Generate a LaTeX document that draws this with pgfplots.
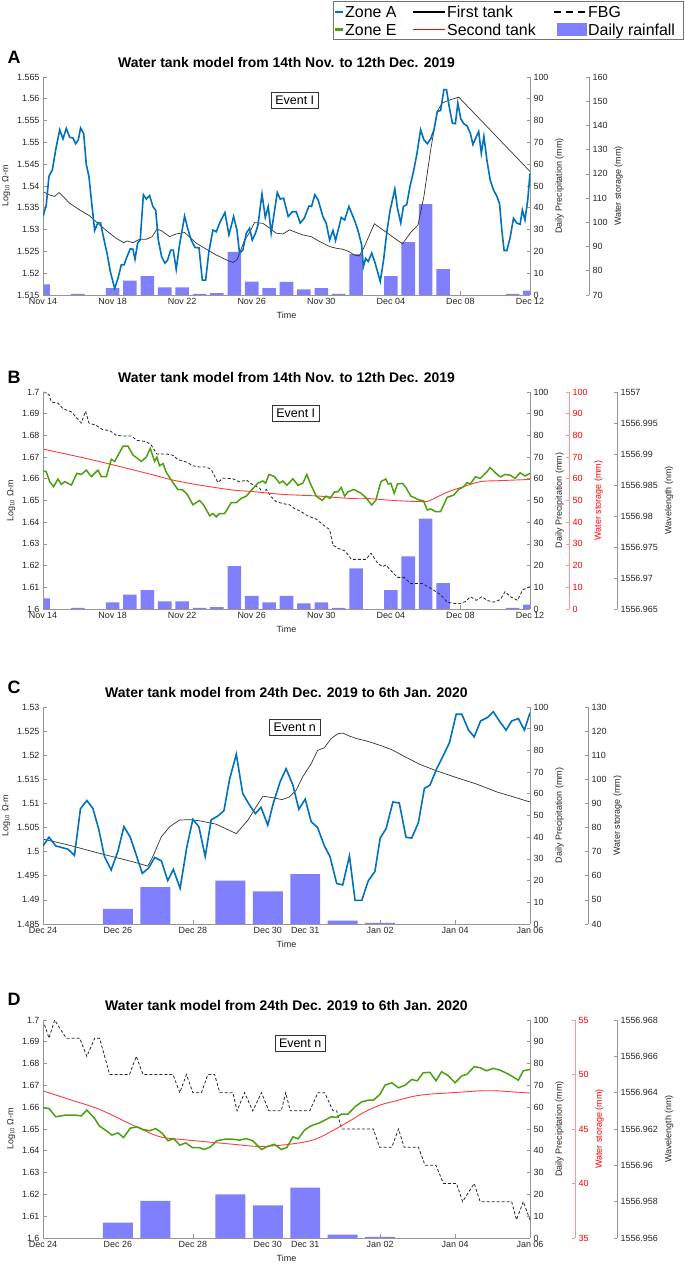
\documentclass[border=0pt]{standalone}
\usepackage{fontspec}
\setmainfont{Liberation Sans}
\usepackage{pgfplots}
\pgfplotsset{compat=1.18}

\definecolor{zoneA}{RGB}{0,114,189}
\definecolor{zoneE}{RGB}{76,160,16}
\definecolor{barcol}{RGB}{128,128,255}
\definecolor{axcol}{RGB}{150,150,150}
\definecolor{tankred}{RGB}{255,60,60}
\definecolor{redax}{RGB}{255,150,150}
\definecolor{txt}{RGB}{38,38,38}

\newcommand\tfont{\fontsize{9}{10.5}\selectfont}

\tikzset{
  evt/.style={draw=black!80, fill=white, font=\fontsize{12.5}{14}\selectfont,
    inner xsep=4bp, minimum height=16bp},
  zoneAline/.style={zoneA, line width=1.6bp},
  zoneEline/.style={zoneE, line width=1.5bp},
  tankline/.style={black!80, line width=0.7bp},
  redline/.style={tankred, line width=0.9bp},
  fbgline/.style={black!85, line width=0.8bp, dash pattern=on 3bp off 2bp},
  legtext/.style={anchor=base west, inner sep=0pt, font=\fontsize{16}{18}\selectfont},
}

\pgfplotsset{
  panel/.style={scale only axis, width=487bp, anchor=south west, xmin=0, clip=true,
    axis line style={axcol, line width=0.6bp}, tick style={axcol, line width=0.6bp},
    major tick length=3.5bp, tick align=inside, scaled ticks=false,
    ticklabel style={font=\tfont, text=txt}, label style={font=\tfont, text=txt},
    /pgf/number format/assume math mode=true,
    title style={font=\bfseries\fontsize{14}{16}\selectfont, text=black}},
  redaxis/.style={axis line style={redax}, tick style={redax},
    yticklabel style={text=red}, ylabel style={text=red}},
  logaxis/.style={axis x line*=bottom, axis y line*=left,
    yticklabel style={/pgf/number format/fixed, /pgf/number format/precision=3},
    xlabel={Time}, ylabel={Log\textsubscript{10} Ω-m}},
  rightaxis/.style={axis x line=none, axis y line*=right},
  rain/.style={ybar, fill=barcol, draw=none},
}

\begin{document}
\begin{tikzpicture}
\path[use as bounding box] (0,0) rectangle (685bp,1265bp);

% ================= A =================
\begin{axis}[panel, rightaxis, at={(43bp,970bp)}, height=218bp, xmax=28, ymin=0, ymax=100,
  ytick={0,10,...,100}, ylabel={Daily Precipitation (mm)}]
\addplot[rain, bar width=0.78] coordinates {
  (0,4.9) (2,0.5) (4,3.1) (5,6.6) (6,8.7) (7,3.5) (8,3.5) (9,0.5) (10,0.9)
  (11,19.8) (12,6.1) (13,3.1) (14,6.0) (15,2.6) (16,3.1) (17,0.5) (18,18.7)
  (20,8.7) (21,24.2) (22,41.7) (23,11.9) (27,0.5) (28,2.0)};
\end{axis}
% first tank, water storage (mm)
\begin{axis}[panel, hide axis, at={(43bp,970bp)}, height=218bp, xmax=28, ymin=70, ymax=160]
\addplot[tankline] coordinates {
  (0,112.7) (0.38,111.3) (0.67,110.7) (0.92,112.3) (1.15,110.7) (1.53,107.9) (2.11,105.1)
  (2.68,102.7) (3.26,98.9) (3.83,95.5) (4.21,93.4) (4.64,91.6) (4.83,92.3) (5.17,91.6)
  (5.56,93.0) (5.94,93.0) (6.28,94.1) (6.55,97.2) (6.80,96.6) (7.28,94.1) (7.66,95.2)
  (8.14,95.8) (8.81,91.4) (9.39,88.9) (9.96,86.5) (10.54,84.5) (10.92,83.4) (11.15,84.5)
  (11.30,87.2) (11.59,92.7) (11.88,95.8) (12.16,99.9) (12.64,99.6) (13.03,97.6)
  (13.41,95.5) (13.79,95.2) (14.18,96.9) (14.56,95.8) (14.94,94.8) (15.42,94.1)
  (15.90,92.1) (16.48,90.0) (16.86,89.3) (17.24,88.9) (17.59,87.9) (17.90,86.5)
  (18.19,86.1) (18.48,90.0) (19.05,99.4) (20.67,91.1) (21.14,95.8) (21.56,98.9)
  (21.90,110.7) (22.29,130.0) (22.67,145.8) (22.95,149.3) (23.43,150.6) (23.90,151.7)
  (28.00,121.0)};
\end{axis}
\begin{axis}[panel, logaxis, at={(43bp,970bp)}, height=218bp, xmax=28, ymin=1.515, ymax=1.565,
  xtick={0,4,...,28},
  xticklabels={Nov 14,Nov 18,Nov 22,Nov 26,Nov 30,Dec 04,Dec 08,Dec 12},
  ytick={1.515,1.52,1.525,1.53,1.535,1.54,1.545,1.55,1.555,1.56,1.565},
  title={Water tank model from 14th Nov. to 12th Dec. 2019}]
\addplot[zoneAline] coordinates {
  (0,1.5330) (0.19,1.5357) (0.34,1.5422) (0.54,1.5437) (0.73,1.5483) (0.96,1.5529)
  (1.15,1.5508) (1.34,1.5532) (1.53,1.5512) (1.72,1.5510) (1.88,1.5497) (2.03,1.5506)
  (2.16,1.5533) (2.34,1.5520) (2.49,1.5449) (2.64,1.5422) (2.80,1.5361) (2.97,1.5298)
  (3.16,1.5316) (3.31,1.5315) (3.49,1.5280) (3.68,1.5246) (3.87,1.5204) (4.12,1.5165)
  (4.31,1.5188) (4.50,1.5219) (4.66,1.5219) (4.83,1.5238) (5.02,1.5256) (5.17,1.5255)
  (5.29,1.5232) (5.44,1.5269) (5.59,1.5276) (5.77,1.5380) (5.94,1.5370) (6.13,1.5378)
  (6.32,1.5353) (6.48,1.5344) (6.63,1.5276) (6.82,1.5238) (7.01,1.5223) (7.16,1.5230)
  (7.34,1.5253) (7.49,1.5253) (7.66,1.5209) (7.85,1.5265) (8.14,1.5331) (8.33,1.5301)
  (8.52,1.5276) (8.74,1.5259) (8.97,1.5258) (9.16,1.5184) (9.35,1.5184) (9.54,1.5250)
  (9.77,1.5299) (9.96,1.5295) (10.19,1.5318) (10.46,1.5339) (10.69,1.5288) (10.96,1.5330)
  (11.15,1.5299) (11.30,1.5246) (11.49,1.5253) (11.69,1.5292) (11.88,1.5303) (12.03,1.5276)
  (12.22,1.5292) (12.36,1.5311) (12.59,1.5382) (12.78,1.5328) (12.95,1.5353) (13.12,1.5292)
  (13.47,1.5385) (13.64,1.5370) (13.83,1.5372) (14.10,1.5330) (14.33,1.5341) (14.56,1.5341)
  (14.79,1.5315) (15.02,1.5326) (15.29,1.5354) (15.44,1.5353) (15.63,1.5380) (15.82,1.5368)
  (16.09,1.5330) (16.28,1.5315) (16.48,1.5276) (16.67,1.5298) (16.82,1.5275) (17.15,1.5328)
  (17.34,1.5322) (17.59,1.5353) (17.94,1.5318) (18.13,1.5295) (18.32,1.5265) (18.42,1.5215)
  (18.55,1.5234) (18.70,1.5227) (18.90,1.5246) (19.09,1.5224) (19.39,1.5181) (19.58,1.5230)
  (19.77,1.5295) (19.96,1.5345) (20.23,1.5393) (20.38,1.5349) (20.57,1.5315) (20.72,1.5353)
  (20.91,1.5357) (21.10,1.5399) (21.30,1.5433) (21.49,1.5472) (21.71,1.5529) (21.90,1.5506)
  (22.10,1.5497) (22.29,1.5508) (22.48,1.5529) (22.67,1.5571) (22.86,1.5573) (23.05,1.5621)
  (23.20,1.5621) (23.35,1.5583) (23.54,1.5544) (23.71,1.5543) (23.85,1.5590) (24.02,1.5554)
  (24.19,1.5543) (24.38,1.5538) (24.57,1.5521) (24.72,1.5495) (24.88,1.5510) (25.05,1.5525)
  (25.20,1.5475) (25.35,1.5514) (25.52,1.5460) (25.71,1.5414) (25.90,1.5391) (26.10,1.5376)
  (26.25,1.5359) (26.38,1.5299) (26.51,1.5252) (26.67,1.5252) (26.86,1.5282) (27.05,1.5326)
  (27.24,1.5315) (27.43,1.5312) (27.56,1.5345) (27.71,1.5322) (27.87,1.5368) (28.00,1.5429)};
\node[evt] at (rel axis cs:0.517,0.894) {Event I};
\end{axis}
\begin{axis}[panel, rightaxis, at={(43bp,970bp)}, width=546bp, height=218bp, xmax=1,
  ymin=70, ymax=160, ytick={70,80,...,160}, ylabel={Water storage (mm)}]
\end{axis}
\node[font=\bfseries\fontsize{18}{18}\selectfont] at (14bp,1208bp) {A};

% ================= B =================
\begin{axis}[panel, rightaxis, at={(43bp,656bp)}, height=217bp, xmax=28, ymin=0, ymax=100,
  ytick={0,10,...,100}, ylabel={Daily Precipitation (mm)}]
\addplot[rain, bar width=0.78] coordinates {
  (0,4.9) (2,0.5) (4,3.1) (5,6.6) (6,8.7) (7,3.5) (8,3.5) (9,0.5) (10,0.9)
  (11,19.8) (12,6.1) (13,3.1) (14,6.0) (15,2.6) (16,3.1) (17,0.5) (18,18.7)
  (20,8.7) (21,24.2) (22,41.7) (23,11.9) (27,0.5) (28,2.0)};
\end{axis}
% FBG wavelength, stored as (wavelength - 1556 nm)
\begin{axis}[panel, hide axis, at={(43bp,656bp)}, height=217bp, xmax=28, ymin=0.965, ymax=1.0]
\addplot[fbgline] coordinates {
  (0,1.0000) (0.34,0.9996) (0.48,0.9984) (0.86,0.9982) (1.15,0.9973) (1.63,0.9968)
  (1.88,0.9960) (2.20,0.9950) (2.45,0.9969) (2.64,0.9950) (3.07,0.9946) (3.45,0.9939)
  (3.83,0.9938) (4.21,0.9930) (4.69,0.9929) (5.08,0.9929) (5.40,0.9922) (5.94,0.9920)
  (6.23,0.9914) (6.55,0.9900) (7.09,0.9900) (7.47,0.9898) (7.76,0.9891) (8.24,0.9887)
  (8.62,0.9881) (9.00,0.9879) (9.39,0.9879) (9.67,0.9875) (10.06,0.9854) (10.34,0.9861)
  (10.92,0.9860) (11.30,0.9855) (11.69,0.9858) (12.07,0.9850) (12.45,0.9845) (12.64,0.9837)
  (12.84,0.9843) (13.12,0.9831) (13.41,0.9823) (13.79,0.9820) (14.18,0.9818) (14.46,0.9812)
  (14.85,0.9807) (15.23,0.9800) (15.71,0.9795) (16.09,0.9786) (16.48,0.9778) (16.67,0.9753)
  (16.95,0.9748) (17.34,0.9744) (17.62,0.9735) (17.71,0.9730) (18.19,0.9730) (18.57,0.9730)
  (18.86,0.9740) (19.24,0.9724) (19.52,0.9718) (19.71,0.9721) (20.10,0.9709) (20.38,0.9701)
  (20.76,0.9701) (21.14,0.9691) (21.81,0.9691) (22.13,0.9686) (22.48,0.9680) (22.86,0.9673)
  (23.24,0.9661) (23.62,0.9659) (24.00,0.9659) (24.29,0.9662) (24.57,0.9670) (24.91,0.9664)
  (25.24,0.9670) (25.52,0.9664) (25.90,0.9661) (26.29,0.9665) (26.57,0.9678) (26.86,0.9670)
  (27.28,0.9664) (27.58,0.9681) (28.00,0.9686)};
\end{axis}
% second tank, water storage (mm)
\begin{axis}[panel, hide axis, at={(43bp,656bp)}, height=217bp, xmax=28, ymin=0, ymax=100]
\addplot[redline, smooth] coordinates {
  (0,73.7) (2.30,69.7) (3.83,66.8) (6.13,62.2) (7.47,59.4) (9.00,57.1) (10.92,54.8)
  (12.07,54.1) (13.79,52.8) (15.71,52.1) (17.53,51.0) (18.48,51.0) (20.38,49.9)
  (21.90,49.5) (22.29,50.2) (23.24,53.8) (24.19,56.4) (25.14,58.7) (26.10,59.1)
  (27.05,59.4) (28.00,59.7)};
\end{axis}
\begin{axis}[panel, logaxis, at={(43bp,656bp)}, height=217bp, xmax=28, ymin=1.6, ymax=1.7,
  xtick={0,4,...,28},
  xticklabels={Nov 14,Nov 18,Nov 22,Nov 26,Nov 30,Dec 04,Dec 08,Dec 12},
  ytick={1.6,1.61,1.62,1.63,1.64,1.65,1.66,1.67,1.68,1.69,1.7},
  title={Water tank model from 14th Nov. to 12th Dec. 2019}]
\addplot[zoneEline] coordinates {
  (0,1.6637) (0.19,1.6632) (0.38,1.6587) (0.61,1.6564) (0.86,1.6599) (1.05,1.6574)
  (1.25,1.6587) (1.44,1.6579) (1.63,1.6571) (1.95,1.6625) (2.20,1.6620) (2.49,1.6640)
  (2.78,1.6610) (3.16,1.6640) (3.35,1.6610) (3.64,1.6610) (3.93,1.6690) (4.12,1.6680)
  (4.60,1.6750) (4.89,1.6750) (5.17,1.6710) (5.65,1.6680) (5.94,1.6700) (6.17,1.6740)
  (6.42,1.6680) (6.55,1.6700) (6.70,1.6660) (6.90,1.6670) (7.09,1.6630) (7.32,1.6600)
  (7.76,1.6550) (8.01,1.6550) (8.28,1.6530) (8.62,1.6480) (9.00,1.6500) (9.23,1.6480)
  (9.58,1.6430) (9.77,1.6440) (9.96,1.6425) (10.15,1.6440) (10.44,1.6440) (10.82,1.6490)
  (11.11,1.6490) (11.40,1.6510) (11.69,1.6520) (12.01,1.6550) (12.36,1.6580) (12.64,1.6590)
  (12.80,1.6580) (12.99,1.6620) (13.31,1.6610) (13.60,1.6580) (13.79,1.6590) (14.02,1.6570)
  (14.37,1.6600) (14.66,1.6570) (14.94,1.6580) (15.17,1.6620) (15.36,1.6580) (15.71,1.6520)
  (16.05,1.6500) (16.28,1.6520) (16.51,1.6510) (16.76,1.6540) (16.95,1.6540) (17.15,1.6560)
  (17.34,1.6520) (17.53,1.6540) (17.87,1.6551) (18.29,1.6533) (18.57,1.6513) (18.90,1.6479)
  (19.14,1.6502) (19.43,1.6587) (19.71,1.6599) (19.85,1.6576) (20.00,1.6579) (20.19,1.6533)
  (20.38,1.6576) (20.67,1.6579) (20.86,1.6560) (21.14,1.6521) (21.43,1.6510) (21.62,1.6502)
  (21.87,1.6499) (22.10,1.6456) (22.29,1.6461) (22.57,1.6449) (22.86,1.6449) (23.24,1.6515)
  (23.62,1.6525) (23.90,1.6551) (24.19,1.6564) (24.38,1.6582) (24.57,1.6576) (24.86,1.6609)
  (25.14,1.6602) (25.52,1.6632) (25.71,1.6652) (26.00,1.6628) (26.29,1.6609) (26.57,1.6620)
  (26.86,1.6617) (27.14,1.6602) (27.43,1.6628) (27.71,1.6613) (28.00,1.6625)};
\node[evt] at (rel axis cs:0.519,0.903) {Event I};
\end{axis}
\begin{axis}[panel, rightaxis, redaxis, at={(43bp,656bp)}, width=526bp, height=217bp, xmax=1,
  ymin=0, ymax=100, ytick={0,10,...,100}, ylabel={Water storage (mm)}]
\end{axis}
\begin{axis}[panel, rightaxis, at={(43bp,656bp)}, width=574bp, height=217bp, xmax=1,
  ymin=0.965, ymax=1.0, ytick={0.965,0.970,0.975,0.980,0.985,0.990,0.995,1.000},
  yticklabels={1556.965,1556.97,1556.975,1556.98,1556.985,1556.99,1556.995,1557},
  ylabel={Wavelength (nm)}]
\end{axis}
\node[font=\bfseries\fontsize{18}{18}\selectfont] at (14bp,888bp) {B};

% ================= C =================
\begin{axis}[panel, rightaxis, at={(43bp,341bp)}, height=217bp, xmax=13, ymin=0, ymax=100,
  ytick={0,10,...,100}, ylabel={Daily Precipitation (mm)}]
\addplot[rain, bar width=0.8] coordinates {
  (2,7.0) (3,17.0) (5,20.0) (6,15.0) (7,23.0) (8,1.5) (9,0.5)};
\end{axis}
\begin{axis}[panel, hide axis, at={(43bp,341bp)}, height=217bp, xmax=13, ymin=40, ymax=130]
\addplot[tankline] coordinates {
  (0,75.2) (0.62,73.0) (1.51,69.3) (2.40,65.8) (2.80,64.0) (2.93,67.9) (3.16,76.2)
  (3.38,80.3) (3.64,83.1) (3.91,83.3) (4.18,82.8) (4.62,81.4) (5.16,77.5) (5.47,83.1)
  (5.69,88.6) (5.87,93.0) (6.13,92.4) (6.38,91.6) (6.58,92.7) (6.76,95.5) (6.93,101.0)
  (7.16,106.5) (7.33,112.0) (7.51,113.1) (7.69,116.9) (7.87,118.9) (8.00,119.2)
  (8.20,117.8) (8.37,116.9) (8.64,115.9) (9.00,114.1) (9.31,112.3) (9.67,109.3)
  (10.06,106.2) (10.51,103.5) (11.04,100.7) (11.58,98.0) (12.11,94.8) (12.56,92.7)
  (13.00,90.6)};
\end{axis}
\begin{axis}[panel, logaxis, at={(43bp,341bp)}, height=217bp, xmax=13, ymin=1.485, ymax=1.53,
  xtick={0,2,4,6,7,9,11,13},
  xticklabels={Dec 24,Dec 26,Dec 28,Dec 30,Dec 31,Jan 02,Jan 04,Jan 06},
  ytick={1.485,1.49,1.495,1.5,1.505,1.51,1.515,1.52,1.525,1.53},
  title={Water tank model from 24th Dec. 2019 to 6th Jan. 2020}]
\addplot[zoneAline] coordinates {
  (0,1.5012) (0.16,1.5030) (0.34,1.5012) (0.67,1.5005) (0.84,1.4992) (1.00,1.5089)
  (1.17,1.5106) (1.33,1.5090) (1.49,1.5046) (1.64,1.4990) (1.82,1.4962) (2.00,1.5001)
  (2.16,1.5052) (2.33,1.5030) (2.49,1.4993) (2.65,1.4955) (2.82,1.4966) (2.98,1.4988)
  (3.16,1.4981) (3.33,1.4940) (3.48,1.4963) (3.66,1.4924) (3.84,1.5010) (4.00,1.5067)
  (4.16,1.5052) (4.33,1.4990) (4.49,1.5066) (4.67,1.5074) (4.83,1.5085) (4.98,1.5150)
  (5.16,1.5202) (5.33,1.5121) (5.51,1.5097) (5.67,1.5079) (5.82,1.5092) (6.00,1.5055)
  (6.15,1.5101) (6.33,1.5145) (6.49,1.5172) (6.67,1.5138) (6.83,1.5088) (7.00,1.5109)
  (7.16,1.5062) (7.33,1.5050) (7.51,1.5012) (7.66,1.4990) (7.84,1.4934) (8.00,1.4931)
  (8.18,1.4991) (8.33,1.4899) (8.51,1.4899) (8.68,1.4939) (8.86,1.4959) (9.00,1.5028)
  (9.16,1.5048) (9.34,1.5103) (9.51,1.5101) (9.69,1.5030) (9.84,1.5028) (10.02,1.5060)
  (10.18,1.5131) (10.33,1.5138) (10.51,1.5172) (10.69,1.5200) (10.85,1.5226) (11.03,1.5285)
  (11.18,1.5285) (11.36,1.5252) (11.51,1.5238) (11.68,1.5271) (11.86,1.5278) (12.02,1.5290)
  (12.20,1.5269) (12.36,1.5252) (12.51,1.5271) (12.69,1.5276) (12.85,1.5252) (13.00,1.5288)};
\node[evt] at (rel axis cs:0.517,0.908) {Event n};
\end{axis}
\begin{axis}[panel, rightaxis, at={(43bp,341bp)}, width=545bp, height=217bp, xmax=1,
  ymin=40, ymax=130, ytick={40,50,...,130}, ylabel={Water storage (mm)}]
\end{axis}
\node[font=\bfseries\fontsize{18}{18}\selectfont] at (14bp,578bp) {C};

% ================= D =================
\begin{axis}[panel, rightaxis, at={(43bp,27bp)}, height=218bp, xmax=13, ymin=0, ymax=100,
  ytick={0,10,...,100}, ylabel={Daily Precipitation (mm)}]
\addplot[rain, bar width=0.8] coordinates {
  (2,7.0) (3,17.0) (5,20.0) (6,15.0) (7,23.1) (8,1.5) (9,0.5)};
\end{axis}
% FBG wavelength, stored as (wavelength - 1556 nm)
\begin{axis}[panel, hide axis, at={(43bp,27bp)}, height=218bp, xmax=13, ymin=0.956, ymax=0.968]
\addplot[fbgline] coordinates {
  (0,0.968) (0.16,0.967) (0.31,0.968) (0.62,0.967) (0.98,0.967) (1.17,0.966) (1.38,0.967)
  (1.51,0.967) (1.78,0.965) (2.31,0.965) (2.49,0.966) (2.67,0.965) (3.47,0.965) (3.65,0.964)
  (3.83,0.965) (4.00,0.964) (4.23,0.964) (4.40,0.965) (4.58,0.965) (4.72,0.964) (5.07,0.964)
  (5.18,0.963) (5.38,0.964) (5.60,0.963) (5.83,0.964) (6.03,0.963) (6.36,0.963) (6.48,0.964)
  (6.60,0.963) (7.12,0.963) (7.34,0.964) (7.52,0.964) (7.74,0.963) (7.84,0.963) (7.97,0.962)
  (8.82,0.962) (8.98,0.961) (9.31,0.961) (9.49,0.962) (9.64,0.961) (10.02,0.961) (10.20,0.960)
  (10.49,0.960) (10.69,0.959) (11.04,0.959) (11.20,0.958) (11.51,0.959) (11.67,0.958)
  (12.51,0.958) (12.64,0.957) (12.82,0.958) (13.00,0.957)};
\end{axis}
\begin{axis}[panel, hide axis, at={(43bp,27bp)}, height=218bp, xmax=13, ymin=35, ymax=55]
\addplot[redline, smooth] coordinates {
  (0,48.5) (0.76,47.65) (1.51,46.8) (2.40,45.35) (3.11,44.3) (3.83,44.0) (5.07,43.6)
  (5.78,43.4) (6.58,43.6) (7.30,44.1) (8.17,45.7) (8.55,46.5) (9.00,47.2) (9.44,47.6)
  (9.89,48.0) (10.33,48.2) (10.78,48.3) (11.22,48.4) (11.67,48.5) (12.11,48.5)
  (12.56,48.4) (13.00,48.3)};
\end{axis}
\begin{axis}[panel, logaxis, at={(43bp,27bp)}, height=218bp, xmax=13, ymin=1.6, ymax=1.7,
  xtick={0,2,4,6,7,9,11,13},
  xticklabels={Dec 24,Dec 26,Dec 28,Dec 30,Dec 31,Jan 02,Jan 04,Jan 06},
  ytick={1.6,1.61,1.62,1.63,1.64,1.65,1.66,1.67,1.68,1.69,1.7},
  title={Water tank model from 24th Dec. 2019 to 6th Jan. 2020}]
\addplot[zoneEline] coordinates {
  (0,1.6597) (0.16,1.6594) (0.34,1.6556) (0.62,1.6564) (0.85,1.6564) (1.02,1.6560)
  (1.17,1.6587) (1.38,1.6548) (1.51,1.6513) (1.69,1.6492) (1.84,1.6472) (2.00,1.6482)
  (2.15,1.6461) (2.33,1.6504) (2.51,1.6510) (2.67,1.6498) (2.85,1.6492) (3.01,1.6502)
  (3.19,1.6479) (3.34,1.6446) (3.49,1.6456) (3.65,1.6426) (3.81,1.6436) (3.99,1.6415)
  (4.16,1.6415) (4.31,1.6406) (4.47,1.6418) (4.64,1.6446) (4.85,1.6453) (5.07,1.6453)
  (5.25,1.6449) (5.43,1.6456) (5.60,1.6446) (5.83,1.6406) (6.01,1.6421) (6.18,1.6430)
  (6.36,1.6406) (6.51,1.6415) (6.67,1.6464) (6.81,1.6455) (6.98,1.6495) (7.16,1.6515)
  (7.38,1.6528) (7.56,1.6544) (7.70,1.6556) (7.83,1.6553) (7.96,1.6568) (8.14,1.6568)
  (8.33,1.6602) (8.51,1.6625) (8.69,1.6632) (8.82,1.6632) (9.00,1.6660) (9.13,1.6701)
  (9.31,1.6712) (9.49,1.6689) (9.67,1.6701) (9.84,1.6727) (9.99,1.6721) (10.15,1.6758)
  (10.33,1.6760) (10.49,1.6721) (10.64,1.6763) (10.82,1.6744) (11.00,1.6712) (11.18,1.6744)
  (11.31,1.6750) (11.51,1.6786) (11.67,1.6781) (11.84,1.6767) (12.02,1.6778) (12.20,1.6770)
  (12.42,1.6752) (12.69,1.6724) (12.82,1.6767) (13.00,1.6773)};
\node[evt] at (rel axis cs:0.528,0.894) {Event n};
\end{axis}
\begin{axis}[panel, rightaxis, redaxis, at={(43bp,27bp)}, width=532bp, height=218bp, xmax=1,
  ymin=35, ymax=55, ytick={35,40,...,55}, ylabel={Water storage (mm)}]
\end{axis}
\begin{axis}[panel, rightaxis, at={(43bp,27bp)}, width=574bp, height=218bp, xmax=1,
  ymin=0.956, ymax=0.968, ytick={0.956,0.958,0.960,0.962,0.964,0.966,0.968},
  yticklabels={1556.956,1556.958,1556.96,1556.962,1556.964,1556.966,1556.968},
  ylabel={Wavelength (nm)}]
\end{axis}
\node[font=\bfseries\fontsize{18}{18}\selectfont] at (14bp,266bp) {D};

% legend (keys drawn as filled strips)
\begin{scope}
\draw[black!55, line width=0.6bp] (333bp,1226bp) rectangle (683bp,1264bp);
\fill[zoneA] (335bp,1251.9bp) rectangle (343bp,1254.1bp);
\fill[zoneE] (335bp,1234.4bp) rectangle (343bp,1236.6bp);
\fill[black] (413bp,1252.4bp) rectangle (445bp,1253.6bp);
\fill[red] (413bp,1234.8bp) rectangle (445bp,1236.2bp);
\fill[black] (554bp,1252.4bp) rectangle (561bp,1253.6bp);
\fill[black] (566bp,1252.4bp) rectangle (573bp,1253.6bp);
\fill[black] (578bp,1252.4bp) rectangle (585bp,1253.6bp);
\fill[barcol] (557bp,1229bp) rectangle (587bp,1242bp);
\node[legtext] at (345bp,1247.3bp) {Zone A};
\node[legtext] at (345bp,1229.8bp) {Zone E};
\node[legtext] at (447bp,1247.3bp) {First tank};
\node[legtext] at (447bp,1229.8bp) {Second tank};
\node[legtext] at (588bp,1247.3bp) {FBG};
\node[legtext] at (588bp,1229.8bp) {Daily rainfall};
\end{scope}

\end{tikzpicture}
\end{document}
